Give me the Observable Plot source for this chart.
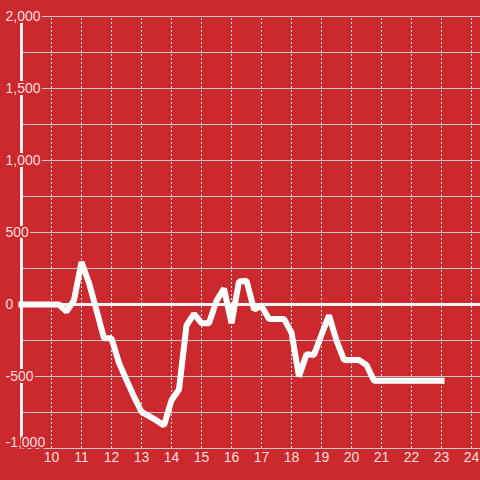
<!DOCTYPE html>
<html>
<head>
<meta charset="utf-8">
<script src="https://cdn.jsdelivr.net/npm/d3@7"></script>
<script src="https://cdn.jsdelivr.net/npm/@observablehq/plot@0.6"></script>
<style>
  html, body { margin: 0; padding: 0; background: #cc292e; }
  #chart { width: 480px; height: 480px; }
</style>
</head>
<body>
<div id="chart"></div>
<script>
// Hours of the day (quarter-hour samples)
const hours = [
  9.00, 9.25, 9.50, 9.75, 10.00, 10.25, 10.50, 10.75,
  11.00, 11.25, 11.50, 11.75, 12.00, 12.25, 12.50, 12.75,
  13.00, 13.25, 13.50, 13.75, 14.00, 14.25, 14.50, 14.75,
  15.00, 15.25, 15.50, 15.75, 16.00, 16.25, 16.50, 16.75,
  17.00, 17.25, 17.50, 17.75, 18.00, 18.25, 18.50, 18.75,
  19.00, 19.25, 19.50, 19.75, 20.00, 20.25, 20.50, 20.75,
  21.00, 21.25, 21.50, 21.75, 22.00, 22.25, 22.50, 22.75, 23.00
];
const values = [
  0, 0, 0, 0, 0, 0, -50, 30,
  295, 150, -40, -235, -235, -405, -525, -640,
  -745, -775, -805, -840, -665, -590, -145, -65,
  -130, -130, 25, 110, -130, 160, 165, -35,
  -10, -100, -100, -100, -195, -500, -345, -350,
  -210, -75, -250, -385, -385, -385, -420, -530,
  -530, -530, -530, -530, -530, -530, -530, -530, -530
];
const xTicks = [10, 11, 12, 13, 14, 15, 16, 17, 18, 19, 20, 21, 22, 23, 24];
const yTicks = [-1000, -500, 0, 500, 1000, 1500, 2000];
const yGrid = [-1000, -750, -500, -250, 250, 500, 750, 1000, 1250, 1500, 1750, 2000];
const xDomain = [9, 24.3];
const yDomain = [-1000, 2000];

const data = hours.map((h, i) => ({hour: h, value: values[i]}));
const bg = "#cc292e";
const txt = "rgba(255,255,255,0.85)";
const fmt = d3.format(",");

const chart = Plot.plot({
  width: 480,
  height: 480,
  marginLeft: 21,
  marginRight: 0,
  marginTop: 16,
  marginBottom: 32,
  style: {background: bg, fontFamily: "'Liberation Sans', Arial, sans-serif", overflow: "visible"},
  x: {domain: xDomain, axis: null},
  y: {domain: yDomain, axis: null},
  marks: [
    Plot.ruleY(yGrid, {stroke: "#c9c9c9", strokeWidth: 1}),
    Plot.ruleX(xTicks, {y1: yDomain[0], y2: yDomain[1], stroke: "#e8e8e8", strokeWidth: 1, strokeDasharray: "2,2"}),
    Plot.ruleX([xDomain[0]], {y1: yDomain[0], y2: yDomain[1], stroke: "#f2f2f2", strokeWidth: 3}),
    Plot.ruleY([0], {stroke: "#f4f4f4", strokeWidth: 3}),
    Plot.text(yTicks.filter(d => d !== -1000), {
      y: d => d, text: d => fmt(d).replace("−", "-"), frameAnchor: "left", dx: -16,
      textAnchor: "start", fill: txt, stroke: bg, strokeWidth: 4, fontSize: 14
    }),
    Plot.text(yTicks.filter(d => d === -1000), {
      y: d => d, text: d => fmt(d).replace("−", "-"), frameAnchor: "left", dx: -16, dy: -6,
      textAnchor: "start", fill: txt, stroke: bg, strokeWidth: 4, fontSize: 14
    }),
    Plot.text(xTicks, {
      x: d => d, text: d => String(d), frameAnchor: "bottom", dy: 13,
      textAnchor: "middle", fill: txt, fontSize: 14
    }),
    Plot.line(data, {
      x: "hour", y: "value", stroke: "white", strokeWidth: 6,
      strokeLinecap: "square", strokeLinejoin: "miter", curve: "linear"
    })
  ]
});
document.getElementById("chart").append(chart);
</script>
</body>
</html>
